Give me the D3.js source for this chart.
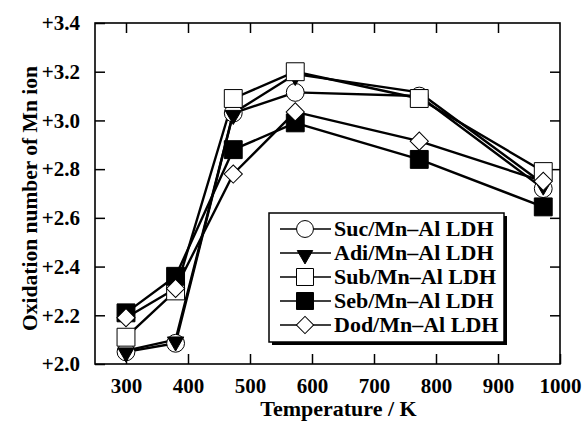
<!DOCTYPE html>
<html>
<head>
<script src="https://cdn.jsdelivr.net/npm/d3@7"></script>
<style>
  body { margin: 0; background: #fff; }
  text { font-family: "Liberation Serif", "Times New Roman", serif; font-weight: bold; fill: #000; }
</style>
</head>
<body>
<div id="chart"></div>
<script>
// data
const temps = [300, 380, 473, 573, 773, 973];
const suc = [2.05, 2.085, 3.03, 3.115, 3.10, 2.72];
const adi = [2.055, 2.10, 3.03, 3.19, 3.115, 2.74];
const sub = [2.11, 2.30, 3.09, 3.20, 3.09, 2.79];
const seb = [2.21, 2.36, 2.88, 2.99, 2.84, 2.645];
const dod = [2.19, 2.31, 2.78, 3.035, 2.915, 2.75];
const names = ["Suc/Mn\u2013Al LDH", "Adi/Mn\u2013Al LDH", "Sub/Mn\u2013Al LDH", "Seb/Mn\u2013Al LDH", "Dod/Mn\u2013Al LDH"];
const xTicks = [300, 400, 500, 600, 700, 800, 900, 1000];
const yTicks = [2.0, 2.2, 2.4, 2.6, 2.8, 3.0, 3.2, 3.4];

const W = 583, H = 422;
const L = 95, R = 560, T = 23, B = 364;

const svg = d3.select('#chart').append('svg')
    .attr('width', W).attr('height', H);

const x = d3.scaleLinear().domain([250, 1000]).range([L, R]);
const y = d3.scaleLinear().domain([2.0, 3.4]).range([B, T]);

// axes: ticks pointing inward on all four sides
function styleAxis(g) {
    g.select('.domain').remove();
    g.selectAll('.tick line').attr('stroke', '#000').attr('stroke-width', 1.5);
}
svg.append('g').attr('transform', `translate(0,${B})`)
    .call(d3.axisBottom(x).tickValues(xTicks).tickSize(-10).tickPadding(14).tickFormat(d3.format('d')))
    .call(styleAxis)
    .selectAll('text').attr('font-size', 21).attr('font-family', 'Liberation Serif').attr('font-weight', 'bold');
svg.append('g').attr('transform', `translate(0,${T})`)
    .call(d3.axisTop(x).tickValues(xTicks.slice(0, -1)).tickSize(-10).tickFormat(''))
    .call(styleAxis);
svg.append('g').attr('transform', `translate(${L},0)`)
    .call(d3.axisLeft(y).tickValues(yTicks).tickSize(-10).tickPadding(15).tickFormat(d => '+' + d.toFixed(1)))
    .call(styleAxis)
    .selectAll('text').attr('font-size', 21).attr('font-family', 'Liberation Serif').attr('font-weight', 'bold');
svg.append('g').attr('transform', `translate(${R},0)`)
    .call(d3.axisRight(y).tickValues(yTicks.slice(1, -1)).tickSize(-10).tickFormat(''))
    .call(styleAxis);

svg.append('rect')
    .attr('x', L).attr('y', T).attr('width', R - L).attr('height', B - T)
    .attr('fill', 'none').attr('stroke', '#000').attr('stroke-width', 1.6);

// axis titles
svg.append('text')
    .attr('x', (L + R) / 2 + 11).attr('y', 416)
    .attr('text-anchor', 'middle').attr('font-size', 22)
    .text('Temperature / K');
svg.append('text')
    .attr('transform', `translate(37,${(T + B) / 2 + 5}) rotate(-90)`)
    .attr('text-anchor', 'middle').attr('font-size', 21.5)
    .text('Oxidation number of Mn ion');

// marker shapes
const markers = [
    { type: d3.symbolCircle, size: 250, fill: '#fff', rot: 0 },
    { type: d3.symbolTriangle, size: 115, fill: '#000', rot: 180 },
    { type: d3.symbolSquare, size: 320, fill: '#fff', rot: 0 },
    { type: d3.symbolSquare, size: 320, fill: '#000', rot: 0 },
    { type: d3.symbolSquare, size: 165, fill: '#fff', rot: 45 }
];
const series = [suc, adi, sub, seb, dod];

const line = d3.line().x((d, i) => x(temps[i])).y(d => y(d));

svg.append('g').selectAll('path')
    .data(series)
    .enter().append('path')
    .attr('d', d => line(d))
    .attr('fill', 'none').attr('stroke', '#000').attr('stroke-width', 2.4)
    .attr('stroke-linejoin', 'round');

series.forEach((vals, k) => {
    const m = markers[k];
    svg.append('g').selectAll('path')
        .data(vals)
        .enter().append('path')
        .attr('d', d3.symbol().type(m.type).size(m.size))
        .attr('transform', (d, i) => `translate(${x(temps[i])},${y(d) + (m.rot === 180 ? 2 : 0)}) rotate(${m.rot})`)
        .attr('fill', m.fill).attr('stroke', '#000').attr('stroke-width', 1);
});

// legend with drop shadow
const lg = svg.append('g');
const lx = 269, ly = 213, lw = 235, lh = 129;
lg.append('rect').attr('x', lx + 3).attr('y', ly + 3).attr('width', lw).attr('height', lh).attr('fill', '#000');
lg.append('rect').attr('x', lx).attr('y', ly).attr('width', lw).attr('height', lh)
    .attr('fill', '#fff').attr('stroke', '#000').attr('stroke-width', 1.5);

names.forEach((name, k) => {
    const cy = 229 + k * 24;
    const m = markers[k];
    lg.append('line').attr('x1', 280).attr('x2', 331).attr('y1', cy).attr('y2', cy)
        .attr('stroke', '#000').attr('stroke-width', 1.5);
    lg.append('path')
        .attr('d', d3.symbol().type(m.type).size(m.size * 0.9))
        .attr('transform', `translate(305,${cy + (m.rot === 180 ? 2 : 0)}) rotate(${m.rot})`)
        .attr('fill', m.fill).attr('stroke', '#000').attr('stroke-width', 1);
    lg.append('text').attr('x', 334).attr('y', cy + 7).attr('font-size', 22).text(name);
});
</script>
</body>
</html>
